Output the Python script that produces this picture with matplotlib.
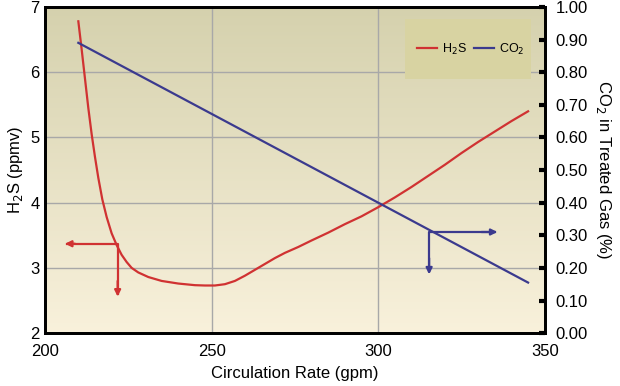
import numpy as np
import matplotlib
matplotlib.use('Agg')
import matplotlib.pyplot as plt
from matplotlib.patches import Rectangle
from matplotlib.lines import Line2D

# data
h2s_rate = [210, 211, 212, 213, 214, 215, 216, 217.2, 218.5, 220, 221.5, 223, 224.5,
            226, 228, 231, 235, 240, 245, 248, 251, 254, 257, 260, 263, 266, 269,
            272, 276, 280, 285, 290, 295, 300, 305, 310, 315, 320, 325, 330, 335,
            340, 345]
h2s_ppmv = [6.78, 6.35, 5.9, 5.45, 5.05, 4.7, 4.38, 4.05, 3.78, 3.53, 3.35, 3.2, 3.09,
            3.0, 2.93, 2.86, 2.80, 2.76, 2.735, 2.73, 2.73, 2.75, 2.80, 2.88, 2.97,
            3.06, 3.15, 3.23, 3.32, 3.42, 3.54, 3.67, 3.79, 3.93, 4.08, 4.24, 4.41,
            4.58, 4.76, 4.93, 5.09, 5.25, 5.40]
co2_rate = [210, 345]
co2_pct = [0.89, 0.155]

x_ticks = [200, 250, 300, 350]
left_ticks = [2, 3, 4, 5, 6, 7]
right_ticks = [i / 10 for i in range(0, 11)]

RED = '#d03232'
BLUE = '#3b3a8e'

plt.rcParams['font.family'] = ['Liberation Sans', 'DejaVu Sans']
fig = plt.figure(figsize=(6.2, 3.86), dpi=100)
ax = fig.add_axes([0.0726, 0.137, 0.806, 0.845])
ax2 = ax.twinx()

# gradient background
grad = np.linspace(0, 1, 256).reshape(-1, 1)
top = np.array([0.835, 0.82, 0.68])
bot = np.array([0.975, 0.945, 0.86])
img = bot + (top - bot) * grad[:, :, None] * np.ones((1, 1, 3))
img = np.clip(img, 0, 1)
ax.imshow(img, extent=[0, 1, 0, 1], transform=ax.transAxes, origin='lower',
          aspect='auto', zorder=0)

ax.set_xlim(200, 350)
ax.set_ylim(2, 7)
ax2.set_ylim(0, 1)

ax.set_xticks(x_ticks)
ax.set_yticks(left_ticks)
ax2.set_yticks(right_ticks)
ax2.set_yticklabels(['{:.2f}'.format(v) for v in right_ticks])

ax.grid(True, color='#a8a8a8', linewidth=1)
for gl in ax.get_xgridlines() + ax.get_ygridlines():
    gl.set_zorder(1)

ax.tick_params(axis='x', length=0, labelsize=12, pad=8)
ax.tick_params(axis='y', length=0, labelsize=12, pad=4)
ax2.tick_params(axis='y', direction='in', length=4, width=3, labelsize=12, pad=8)

for sp in ax.spines.values():
    sp.set_linewidth(2)
for sp in ax2.spines.values():
    sp.set_linewidth(2)

ax.plot(h2s_rate, h2s_ppmv, color=RED, linewidth=1.6, zorder=3)
ax2.plot(co2_rate, co2_pct, color=BLUE, linewidth=1.6, zorder=3)

# axis pointer arrows
aprops_r = dict(arrowstyle='-|>', color=RED, lw=1.6, mutation_scale=9, shrinkA=0, shrinkB=0)
ax.plot([206.5, 221.8, 221.8], [3.37, 3.37, 2.6], color=RED, lw=1.6, zorder=3)
ax.annotate('', xy=(206.0, 3.37), xytext=(209, 3.37), arrowprops=aprops_r, zorder=4)
ax.annotate('', xy=(221.8, 2.56), xytext=(221.8, 2.8), arrowprops=aprops_r, zorder=4)

aprops_b = dict(arrowstyle='-|>', color=BLUE, lw=1.6, mutation_scale=9, shrinkA=0, shrinkB=0)
ax2.plot([315.3, 315.3, 335], [0.19, 0.31, 0.31], color=BLUE, lw=1.6, zorder=3)
ax2.annotate('', xy=(315.3, 0.18), xytext=(315.3, 0.23), arrowprops=aprops_b, zorder=4)
ax2.annotate('', xy=(335.8, 0.31), xytext=(331, 0.31), arrowprops=aprops_b, zorder=4)

ax.set_xlabel('Circulation Rate (gpm)', fontsize=12, labelpad=5)
ax.set_ylabel('H$_2$S (ppmv)', fontsize=12, labelpad=4)
ax2.set_ylabel('CO$_2$ in Treated Gas (%)', fontsize=12, rotation=270, labelpad=18)

# legend box
ax.add_patch(Rectangle((0.72, 0.779), 0.252, 0.184, transform=ax.transAxes,
                       facecolor='#d8d3a2', edgecolor='none', zorder=5))
handles = [Line2D([], [], color=RED, lw=1.6), Line2D([], [], color=BLUE, lw=1.6)]
leg = ax.legend(handles, ['H$_2$S', 'CO$_2$'], ncol=2, frameon=False, fontsize=9,
                loc='center', bbox_to_anchor=(0.852, 0.871), handlelength=1.6,
                handletextpad=0.4, columnspacing=0.6)
leg.set_zorder(6)

plt.savefig('out.png', dpi=100)
